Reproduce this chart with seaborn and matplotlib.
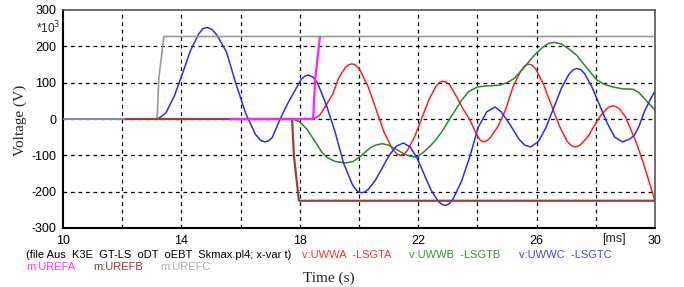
import numpy as np
import pandas as pd
import matplotlib
matplotlib.use("Agg")
import matplotlib.pyplot as plt
import matplotlib.transforms as mtrans
import seaborn as sns

# ---------------- data (time in ms, voltage in kV) ----------------
t_uwwa = [10, 18.45, 18.67, 18.89, 19.11, 19.32, 19.54, 19.65, 19.76, 19.89, 20.03, 20.31, 20.58, 20.85,
          21.13, 21.27, 21.4, 21.52, 21.64, 21.88, 22.12, 22.36, 22.6, 22.72, 22.84, 22.96, 23.07,
          23.29, 23.41, 23.52, 23.75, 23.97, 24.09, 24.2, 24.32, 24.45, 24.7, 24.95, 25.2, 25.45,
          25.6, 25.72, 25.83, 25.97, 26.23, 26.5, 26.77, 27.03, 27.17, 27.3, 27.4, 27.51, 27.73,
          27.94, 28.15, 28.37, 28.47, 28.58, 28.68, 28.8, 29.0, 29.2, 29.4, 29.6, 29.8, 30.0]
v_uwwa = [0, 0, 10, 38, 68, 114, 142, 149, 152, 148, 135, 89, 26, -37,
          -83, -96, -100, -97, -86, -49, 2, 53, 90, 101, 104, 101, 93,
          62, 44, 27, -3, -42, -58, -63, -60, -50, -20, 25, 88, 130,
          146, 151, 149, 138, 96, 38, -19, -61, -73, -77, -75, -69, -49,
          -20, 8, 28, 34, 36, 34, 28, 6, -32, -72, -120, -172, -225]

t_uwwb = [10, 17.77, 18.0, 18.24, 18.5, 18.75, 18.92, 19.2, 19.55, 19.8, 20.03, 20.37, 20.55, 20.78,
          21.0, 21.25, 21.5, 21.75, 21.96, 22.2, 22.4, 22.6, 22.84, 23.1, 23.3, 23.45, 23.7,
          23.99, 24.3, 24.76, 25.0, 25.25, 25.54, 25.78, 26.0, 26.2, 26.4, 26.6, 26.85, 27.1,
          27.36, 27.7, 28.04, 28.3, 28.58, 28.9, 29.26, 29.45, 29.6, 29.8, 30.0]
v_uwwb = [0, 0, -8, -28, -60, -92, -106, -117, -121, -117, -104, -80, -72, -68,
          -72, -83, -95, -103, -105, -90, -75, -57, -30, 5, 30, 50, 75,
          88, 91, 93, 100, 112, 138, 162, 182, 197, 208, 211, 206, 192,
          175, 140, 107, 95, 88, 83, 82, 73, 60, 42, 25]

t_uwwc = [10, 13.2, 13.48, 13.76, 14.04, 14.31, 14.59, 14.73, 14.87, 15.03, 15.2, 15.52, 15.85, 16.17,
          16.5, 16.68, 16.82, 16.95, 17.07, 17.31, 17.56, 17.81, 18.05, 18.17, 18.3, 18.45, 18.6,
          18.89, 19.19, 19.48, 19.78, 19.93, 20.07, 20.19, 20.31, 20.55, 20.79, 21.02, 21.26,
          21.5, 21.73, 21.97, 22.2, 22.43, 22.67, 22.78, 22.9, 23.04, 23.18, 23.47, 23.75,
          24.03, 24.32, 24.6, 24.8, 25.0, 25.2, 25.4, 25.6, 25.8, 26.06, 26.32, 26.58, 26.84,
          27.1, 27.23, 27.36, 27.49, 27.62, 27.87, 28.13, 28.39, 28.64, 28.9, 29.15, 29.3,
          29.45, 29.65, 29.85, 30.0]
v_uwwc = [0, 0, 17, 63, 126, 189, 235, 249, 252, 247, 231, 185, 95, 16,
          -42, -59, -63, -60, -51, -5, 38, 75, 109, 118, 121, 115, 99,
          40, -35, -122, -181, -198, -203, -201, -194, -169, -134, -100, -75,
          -66, -77, -109, -152, -195, -226, -234, -238, -234, -220, -170, -102,
          -22, 20, 33, 20, -3, -28, -55, -72, -77, -62, -23, 31, 85,
          124, 135, 139, 136, 125, 88, 38, -12, -50, -63, -55, -45,
          -22, 22, 55, 77]

t_urefa = [15.64, 18.45, 18.52, 18.68]
v_urefa = [0, 0, 110, 225]

t_urefb = [12.12, 17.74, 17.8, 17.97, 30.0]
v_urefb = [0, 0, -100, -225, -225]

t_urefc = [10, 13.18, 13.24, 13.41, 30.0]
v_urefc = [0, 0, 115, 227, 227]

x_ticks = [10, 12, 14, 16, 18, 20, 22, 24, 26, 28, 30]
x_ticklabels = ["10", "", "14", "", "18", "", "22", "", "26", "", "30"]
y_ticks = [-300, -200, -100, 0, 100, 200, 300]

header = "(file Aus  K3E  GT-LS  oDT  oEBT  Skmax.pl4; x-var t)"
legend_row1 = [("v:UWWA  -LSGTA", "#ff3030", 302), ("v:UWWB  -LSGTB", "#2f9a2f", 409),
               ("v:UWWC  -LSGTC", "#4444ff", 519)]
legend_row2 = [("m:UREFA", "#ff33ff", 26), ("m:UREFB", "#9a3333", 93), ("m:UREFC", "#aaaaaa", 160)]

# ---------------- figure ----------------
sns.set_style("white")
plt.rcParams["font.family"] = ["Liberation Sans", "DejaVu Sans"]

W, H = 684, 287
fig = plt.figure(figsize=(W / 100, H / 100), dpi=100)
ax = fig.add_axes([63 / W, 1 - 228 / H, (655 - 63) / W, (228 - 10) / H])

series = [
    (t_uwwa, v_uwwa, "#ff2020", 1.1, 2),
    (t_uwwb, v_uwwb, "#1f8f1f", 1.1, 2),
    (t_uwwc, v_uwwc, "#2a2aff", 1.1, 2),
    (t_urefc, v_urefc, "#999999", 1.2, 3),
    (t_urefb, v_urefb, "#a03c3c", 1.6, 4),
    (t_urefa, v_urefa, "#ff22ff", 1.6, 5),
]
for t, v, c, lw, z in series:
    df = pd.DataFrame({"t": t, "v": v})
    sns.lineplot(data=df, x="t", y="v", ax=ax, color=c, lw=lw, sort=False,
                 estimator=None, zorder=z)

ax.set_xlim(10, 30)
ax.set_ylim(-300, 300)
ax.set_xticks(x_ticks)
ax.set_xticklabels(x_ticklabels)
ax.set_yticks(y_ticks)
ax.set_yticklabels([str(v) for v in y_ticks])
ax.set_xlabel("")
ax.set_ylabel("")
ax.tick_params(axis="both", direction="out", length=4, width=1.2, colors="black",
               labelsize=9, pad=1)

for gx in x_ticks[1:-1]:
    ax.axvline(gx, color="black", lw=0.9, ls=(0, (3, 3)), zorder=1)
for gy in y_ticks[1:-1]:
    ax.axhline(gy, color="black", lw=0.9, ls=(0, (3, 3)), zorder=1)

for s in ["left", "bottom"]:
    ax.spines[s].set_color("black")
    ax.spines[s].set_linewidth(1.5)
for s in ["top", "right"]:
    ax.spines[s].set_color("#555555")
    ax.spines[s].set_linewidth(1.2)

trans = mtrans.blended_transform_factory(ax.transData, fig.transFigure)
ax.text(28.6, 1 - 239 / H, "[ms]", transform=trans, ha="center", va="center", fontsize=9)

fig.text(36 / W, 1 - 28 / H, "*10$^{3}$", ha="left", va="center", fontsize=8.5)
fig.text(20 / W, 1 - 120 / H, "Voltage (V)", rotation=90, ha="center", va="center",
         fontsize=11, family=["Liberation Serif", "DejaVu Serif"])
fig.text(329 / W, 1 - 278 / H, "Time (s)", ha="center", va="center",
         fontsize=11, family=["Liberation Serif", "DejaVu Serif"])

fig.text(26 / W, 1 - 255 / H, header, ha="left", va="center", fontsize=8, color="black")
for txt, c, x in legend_row1:
    fig.text(x / W, 1 - 255 / H, txt, ha="left", va="center", fontsize=8, color=c)
for txt, c, x in legend_row2:
    fig.text(x / W, 1 - 267 / H, txt, ha="left", va="center", fontsize=8, color=c)

fig.savefig("out.png", dpi=100)
